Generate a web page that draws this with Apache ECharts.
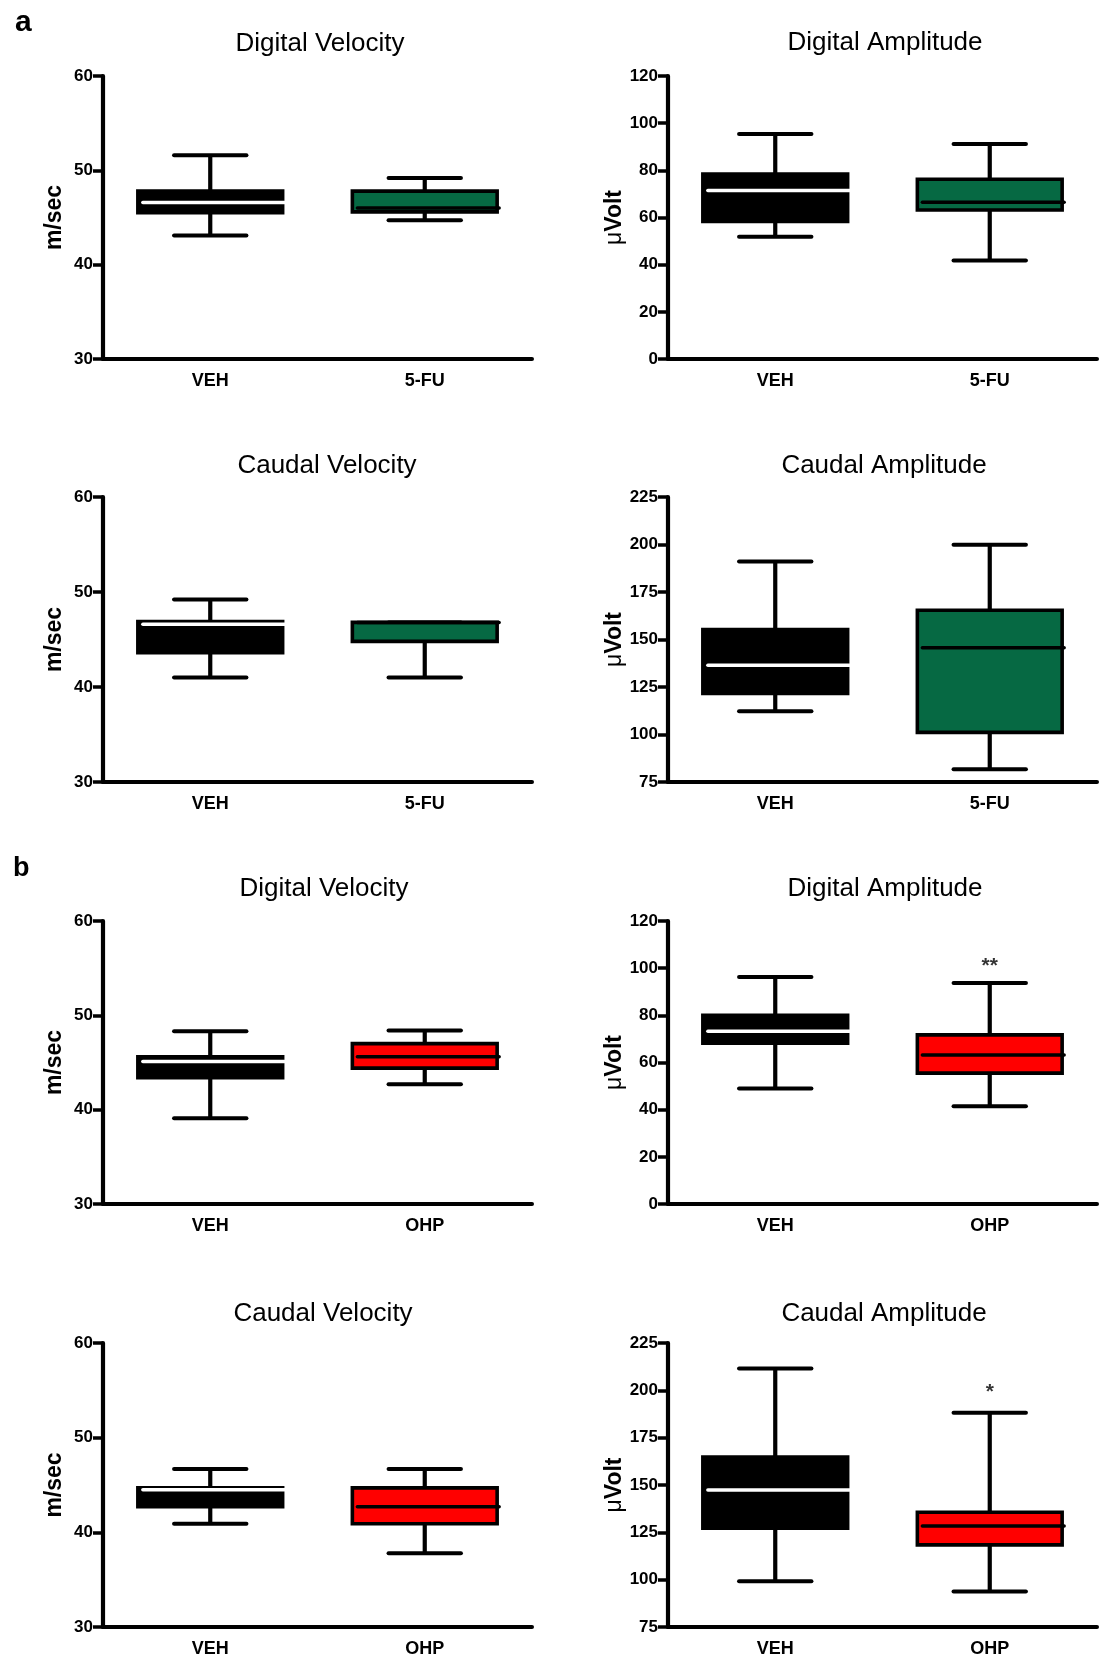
<!DOCTYPE html>
<html>
<head>
<meta charset="utf-8">
<script src="https://cdn.jsdelivr.net/npm/echarts@6/dist/echarts.min.js"></script>
<style>
  html, body { margin: 0; padding: 0; background: #fff; }
  #chart { width: 1101px; height: 1657px; }
</style>
</head>
<body>
<div id="chart"></div>
<script>
// groups along the x axis
const groupsA = ['VEH', '5-FU'];
const groupsB = ['VEH', 'OHP'];

// one box per group: [min, q1, median, q3, max]
const digitalVelocityA = [[43.1, 45.5, 46.6, 47.8, 51.6], [44.7, 45.6, 46.0, 47.8, 49.2]];
const digitalAmplitudeA = [[51.8, 58.3, 71.4, 78.4, 95.4], [41.8, 63.2, 66.5, 76.2, 91.2]];
const caudalVelocityA = [[41.0, 43.6, 46.6, 46.9, 49.2], [41.0, 44.8, 46.8, 46.8, 46.8]];
const caudalAmplitudeA = [[112.2, 121.6, 136.4, 155.3, 191.1], [81.7, 101.1, 145.6, 165.4, 199.9]];

const digitalVelocityB = [[39.1, 43.4, 45.1, 45.6, 48.3], [42.7, 44.4, 45.6, 47.0, 48.4]];
const digitalAmplitudeB = [[49.0, 68.2, 73.2, 80.0, 96.3], [41.5, 55.5, 63.2, 71.7, 93.7]];
const caudalVelocityB = [[40.9, 42.7, 44.5, 44.7, 46.7], [37.8, 40.9, 42.7, 44.7, 46.7]];
const caudalAmplitudeB = [[99.1, 127.2, 147.4, 164.8, 211.5], [93.8, 118.4, 128.4, 135.6, 188.1]];

// significance marks: [group, height in axis units, text]
const starsDigitalAmplitudeB = [['OHP', 101, '**']];
const starsCaudalAmplitudeB = [['OHP', 199, '*']];

// y axis: [min, max, interval]
const velocityTicks = [30, 60, 10];
const amplitudeTicks = [0, 120, 20];
const caudalAmplitudeTicks = [75, 225, 25];

const fillA = ['#000000', '#066943'];
const fillB = ['#000000', '#ff0000'];
const medianColors = ['#ffffff', '#000000'];

const narrow = "'Liberation Sans Narrow', 'Arial Narrow', 'Liberation Sans', Arial, sans-serif";
const sans = "'Liberation Sans', Arial, sans-serif";

const colX = [103, 668];
const colW = 429;
const rowY = [76, 497, 921, 1343];
const rowH = [283, 285, 283, 284];

const panels = [
  { title: 'Digital Velocity', groups: groupsA, boxes: digitalVelocityA, ticks: velocityTicks, unit: 'm/sec', fill: fillA, col: 0, row: 0, tx: 320, ty: 44 },
  { title: 'Digital Amplitude', groups: groupsA, boxes: digitalAmplitudeA, ticks: amplitudeTicks, unit: 'uV', fill: fillA, col: 1, row: 0, tx: 885, ty: 43 },
  { title: 'Caudal Velocity', groups: groupsA, boxes: caudalVelocityA, ticks: velocityTicks, unit: 'm/sec', fill: fillA, col: 0, row: 1, tx: 327, ty: 466 },
  { title: 'Caudal Amplitude', groups: groupsA, boxes: caudalAmplitudeA, ticks: caudalAmplitudeTicks, unit: 'uV', fill: fillA, col: 1, row: 1, tx: 884, ty: 466 },
  { title: 'Digital Velocity', groups: groupsB, boxes: digitalVelocityB, ticks: velocityTicks, unit: 'm/sec', fill: fillB, col: 0, row: 2, tx: 324, ty: 889 },
  { title: 'Digital Amplitude', groups: groupsB, boxes: digitalAmplitudeB, ticks: amplitudeTicks, unit: 'uV', fill: fillB, col: 1, row: 2, tx: 885, ty: 889, stars: starsDigitalAmplitudeB },
  { title: 'Caudal Velocity', groups: groupsB, boxes: caudalVelocityB, ticks: velocityTicks, unit: 'm/sec', fill: fillB, col: 0, row: 3, tx: 323, ty: 1314 },
  { title: 'Caudal Amplitude', groups: groupsB, boxes: caudalAmplitudeB, ticks: caudalAmplitudeTicks, unit: 'uV', fill: fillB, col: 1, row: 3, tx: 884, ty: 1314, stars: starsCaudalAmplitudeB }
];

// GraphPad style box: filled box, black whiskers with caps, coloured median line
function boxRenderer(fills) {
  return function (params, api) {
    const i = api.value(0);
    const pMin = api.coord([i, api.value(1)]);
    const pQ1 = api.coord([i, api.value(2)]);
    const pMed = api.coord([i, api.value(3)]);
    const pQ3 = api.coord([i, api.value(4)]);
    const pMax = api.coord([i, api.value(5)]);
    const band = api.size([1, 0])[0];
    const w = band * 0.675;
    const cap = w * 0.5;
    const x = pMin[0];
    const line = (x1, y1, x2, y2, color, width, lineCap) => ({
      type: 'line',
      shape: { x1: x1, y1: y1, x2: x2, y2: y2 },
      style: { stroke: color, lineWidth: width, lineCap: lineCap || 'butt' }
    });
    return {
      type: 'group',
      children: [
        line(x, pQ3[1], x, pMax[1], '#000', 4.2),
        line(x, pQ1[1], x, pMin[1], '#000', 4.2),
        line(x - cap / 2, pMax[1], x + cap / 2, pMax[1], '#000', 4, 'round'),
        line(x - cap / 2, pMin[1], x + cap / 2, pMin[1], '#000', 4, 'round'),
        {
          type: 'rect',
          shape: { x: x - w / 2, y: pQ3[1], width: w, height: pQ1[1] - pQ3[1] },
          style: { fill: fills[i], stroke: '#000', lineWidth: 3.6 }
        },
        line(x - w / 2 + 5, pMed[1], x + w / 2 + 2, pMed[1], medianColors[i], 3.5, 'round')
      ]
    };
  };
}

const titles = [
  { text: 'a', left: 15, top: 8, padding: 0, textStyle: { fontFamily: sans, fontSize: 30, fontWeight: 'bold', color: '#000' } },
  { text: 'b', left: 13, top: 855, padding: 0, textStyle: { fontFamily: sans, fontSize: 27, fontWeight: 'bold', color: '#000' } }
];
const grids = [], xAxes = [], yAxes = [], series = [];

panels.forEach((p, k) => {
  titles.push({
    text: p.title, left: p.tx, top: p.ty, padding: 0,
    textAlign: 'center', textVerticalAlign: 'middle',
    textStyle: { fontFamily: sans, fontSize: 26, fontWeight: 'normal', color: '#000' }
  });
  grids.push({ left: colX[p.col], top: rowY[p.row], width: colW, height: rowH[p.row], outerBoundsMode: 'none' });
  xAxes.push({
    type: 'category', gridIndex: k, data: p.groups,
    axisLine: { lineStyle: { color: '#000', width: 4 } },
    axisTick: { show: false },
    axisLabel: { margin: 13, color: '#000', fontFamily: narrow, fontWeight: 'bold', fontSize: 18 },
    splitLine: { show: false }
  });
  const isVolt = p.unit === 'uV';
  yAxes.push({
    type: 'value', gridIndex: k,
    min: p.ticks[0], max: p.ticks[1], interval: p.ticks[2],
    name: isVolt ? '{mu|\u03bc}Volt' : 'm/sec',
    nameLocation: 'middle', nameGap: isVolt ? 39 : 37,
    nameTextStyle: {
      fontFamily: sans, fontWeight: 'bold', fontSize: 23, color: '#000',
      rich: { mu: { fontFamily: sans, fontWeight: 'normal', fontSize: 23, color: '#000' } }
    },
    axisLine: { show: true, lineStyle: { color: '#000', width: 4.2 } },
    axisTick: { show: true, length: 10, lineStyle: { color: '#000', width: 3.5 } },
    axisLabel: { margin: 10, color: '#000', fontFamily: narrow, fontWeight: 'bold', fontSize: 17 },
    splitLine: { show: false }
  });
  series.push({
    type: 'custom', xAxisIndex: k, yAxisIndex: k,
    renderItem: boxRenderer(p.fill),
    encode: { x: 0, y: [1, 2, 3, 4, 5] },
    data: p.boxes.map((b, i) => [i].concat(b)),
    silent: true
  });
  if (p.stars) {
    series.push({
      type: 'scatter', xAxisIndex: k, yAxisIndex: k,
      symbolSize: 0, silent: true,
      data: p.stars.map(s => ({ name: s[2], value: [s[0], s[1]] })),
      label: { show: true, position: 'inside', formatter: '{b}', color: '#000', fontFamily: sans, fontWeight: 'bold', fontSize: 21 }
    });
  }
});

const chart = echarts.init(document.getElementById('chart'), null, { renderer: 'canvas' });
chart.setOption({
  backgroundColor: '#fff',
  animation: false,
  title: titles,
  grid: grids,
  xAxis: xAxes,
  yAxis: yAxes,
  series: series
});
</script>
</body>
</html>
